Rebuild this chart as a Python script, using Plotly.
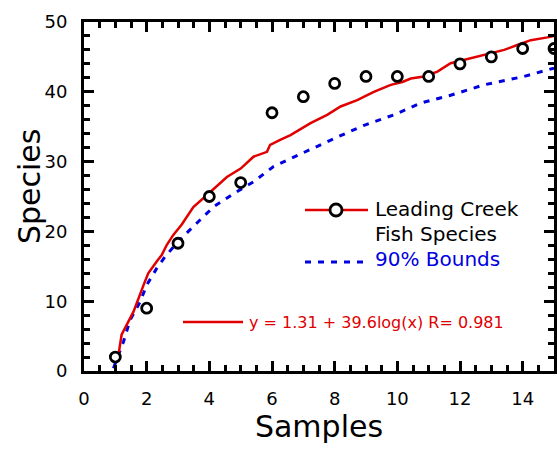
import plotly.graph_objects as go

# ---- data ----
sample_x = [1, 2, 3, 4, 5, 6, 7, 8, 9, 10, 11, 12, 13, 14, 15]
species_y = [2, 9, 18.3, 25, 27, 37, 39.3, 41.2, 42.2, 42.2, 42.2, 44, 45, 46.2, 46.2]

mean_x = [1.05, 1.09, 1.2, 1.4, 1.58, 1.9, 2.05, 2.32, 2.48, 2.64, 2.85, 3.12, 3.49, 3.97,
          4.56, 5.0, 5.41, 5.84, 5.94, 6.26, 6.59, 7.23, 7.76, 8.19, 8.72, 9.25, 9.79,
          10.16, 10.43, 10.85, 11.28, 11.7, 12.34, 12.77, 13.41, 13.83, 14.26, 14.79, 15.0]
mean_y = [1.8, 2.0, 5.2, 7.0, 8.5, 12.3, 14.0, 15.7, 16.6, 18.05, 19.5, 21.0, 23.5, 25.4,
          27.8, 29.0, 30.7, 31.4, 32.4, 33.1, 33.8, 35.5, 36.7, 37.9, 38.8, 40.0, 41.0,
          41.4, 41.9, 42.2, 42.9, 44.1, 44.8, 45.3, 46.0, 46.7, 47.4, 47.8, 48.0]

bound_x = [0.94, 1.1, 1.26, 1.47, 1.79, 2.0, 2.32, 2.59, 2.96, 3.33, 3.71, 4.13, 4.77, 5.41,
           6.05, 6.49, 7.02, 7.98, 8.94, 9.89, 10.75, 11.7, 12.77, 14.05, 15.0]
bound_y = [0.4, 2.3, 4.2, 7.3, 9.9, 12.3, 14.7, 16.4, 18.3, 20.0, 21.6, 23.5, 25.4, 27.1,
           29.3, 30.2, 31.4, 33.3, 35.2, 36.7, 38.4, 39.5, 41.0, 42.2, 43.4]

x_range = [0, 15]
y_range = [0, 50]

x_title = "Samples"
y_title = "Species"
legend_main = ["Leading Creek", "Fish Species"]
legend_bound = "90% Bounds"
fit_label = "y = 1.31 + 39.6log(x) R= 0.981"

RED = "#e00000"
BLUE = "#0000e0"
FONT = "DejaVu Sans"

# plot area in page pixels: x 84..554, y 22..371
W, H = 557, 450
PL, PR, PT, PB = 84, 554, 22, 371
PW, PH = PR - PL, PB - PT
ML, MT = PL, PT
MR = W - ML - PW
MB = H - MT - PH


def px(x):
    return (x - PL) / PW


def py(y):
    return (PB - y) / PH


fig = go.Figure()
fig.add_trace(go.Scatter(x=bound_x, y=bound_y, mode="lines",
                         line=dict(color=BLUE, width=3, dash="6px,7px"), showlegend=False))
fig.add_trace(go.Scatter(x=mean_x, y=mean_y, mode="lines",
                         line=dict(color=RED, width=2.5), showlegend=False))
fig.add_trace(go.Scatter(x=sample_x, y=species_y, mode="markers", xaxis="x2", yaxis="y2",
                         marker=dict(symbol="circle", size=10, color="white",
                                     line=dict(color="black", width=2.8)),
                         showlegend=False))

shapes = [
    dict(type="line", xref="paper", yref="paper", x0=px(305), x1=px(368), y0=py(210), y1=py(210),
         line=dict(color=RED, width=2.5)),
    dict(type="circle", xref="paper", yref="paper", x0=px(330), x1=px(342), y0=py(216), y1=py(204),
         line=dict(color="black", width=2.8), fillcolor="white"),
    dict(type="line", xref="paper", yref="paper", x0=px(305), x1=px(368), y0=py(262), y1=py(262),
         line=dict(color=BLUE, width=3, dash="6px,7px")),
    dict(type="line", xref="paper", yref="paper", x0=px(183), x1=px(243), y0=py(322), y1=py(322),
         line=dict(color=RED, width=2.5)),
]
annotations = [
    dict(x=px(373), y=py(209), text=legend_main[0], xanchor="left",
         font=dict(color="black", size=20, family=FONT)),
    dict(x=px(373), y=py(234), text=legend_main[1], xanchor="left",
         font=dict(color="black", size=20, family=FONT)),
    dict(x=px(373), y=py(259), text=legend_bound, xanchor="left",
         font=dict(color=BLUE, size=20, family=FONT)),
    dict(x=px(247), y=py(322), text=fit_label, xanchor="left",
         font=dict(color=RED, size=16, family=FONT)),
    dict(x=px(29), y=py(187), text=y_title, xanchor="center", textangle=-90,
         font=dict(color="black", size=30, family=FONT)),
]
for a in annotations:
    a.update(xref="paper", yref="paper", yanchor="middle", showarrow=False)

major = dict(showline=True, linewidth=3, linecolor="black", mirror="allticks",
             ticks="inside", ticklen=10, tickwidth=2.5, tickcolor="black",
             showgrid=False, zeroline=False, automargin=False,
             tickfont=dict(size=18, family=FONT, color="black"))
minor = dict(showline=False, mirror="allticks", ticks="inside", ticklen=6, tickwidth=2.5,
             tickcolor="black", showgrid=False, zeroline=False, automargin=False,
             showticklabels=False)

fig.update_layout(
    template="none",
    width=W, height=H,
    margin=dict(l=ML, r=MR, t=MT, b=MB),
    paper_bgcolor="white", plot_bgcolor="white",
    font=dict(family=FONT, color="black"),
    shapes=shapes, annotations=annotations,
    xaxis=dict(range=x_range, dtick=2, tick0=0, ticklabelstandoff=9,
               title=dict(text=x_title, font=dict(size=30, family=FONT), standoff=8),
               **major),
    yaxis=dict(range=y_range, dtick=10, tick0=0, ticklabelstandoff=10, **major),
    xaxis2=dict(range=x_range, dtick=0.5, tick0=0, overlaying="x", anchor="y2", **minor),
    yaxis2=dict(range=y_range, dtick=2, tick0=0, overlaying="y", anchor="x2", **minor),
)

fig.write_html("out.html", config={"displayModeBar": False},
               post_script="document.body.style.margin='0';document.body.style.overflow='hidden';")
